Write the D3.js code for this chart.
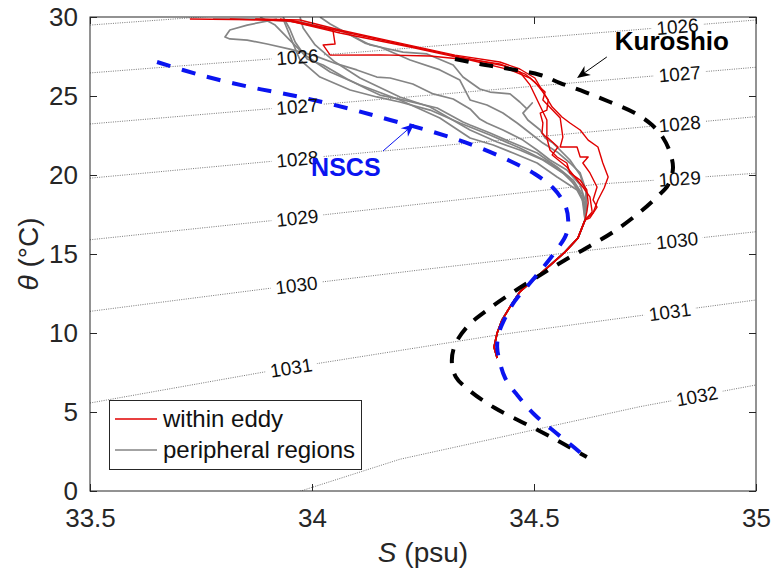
<!DOCTYPE html>
<html>
<head>
<meta charset="utf-8">
<script src="https://cdn.jsdelivr.net/npm/d3@7"></script>
<style>
  body { margin: 0; background: #fff; }
  svg { font-family: "Liberation Sans", Arial, sans-serif; }
</style>
</head>
<body>
<svg id="chart" width="773" height="573"></svg>
<script>
// ---- axes ----
const sTicks = [33.5, 34, 34.5, 35];
const thetaTicks = [0, 5, 10, 15, 20, 25, 30];

// ---- isopycnals (S, theta) ----
const sigmaLevels = [1025, 1026, 1027, 1028, 1029, 1030, 1031, 1032];
const sigma1025 = [[33.5, 29.49], [33.85, 30.2]];
const sigma1026 = [[33.5, 26.46], [34.13, 27.83], [35, 29.81]];
const sigma1027 = [[33.5, 23.23], [34.13, 24.73], [34.77, 26.27], [35, 26.82]];
const sigma1028 = [[33.5, 19.80], [34.13, 21.44], [34.77, 23.10], [35, 23.69]];
const sigma1029 = [[33.5, 15.90], [33.908, 17.11], [34.649, 19.43], [35, 20.11]];
const sigma1030 = [[33.5, 11.37], [33.905, 12.83], [34.243, 13.99], [34.694, 15.46], [35, 16.41]];
const sigma1031 = [[33.5, 5.57], [33.896, 7.55], [34.417, 9.87], [34.694, 10.93], [35, 12.09]];
const sigma1032 = [[33.958, -0.15], [34.198, 2.01], [34.739, 5.34], [35, 6.71]];
const sigmaLines = [sigma1025, sigma1026, sigma1027, sigma1028, sigma1029, sigma1030, sigma1031, sigma1032];
// label level, salinity where it sits
const contourLabels = [
  [1026, 33.967], [1027, 33.967], [1028, 33.967], [1029, 33.967], [1030, 33.965], [1031, 33.953],
  [1026, 34.823], [1027, 34.828], [1028, 34.828], [1029, 34.828], [1030, 34.822], [1031, 34.806], [1032, 34.867]
];

// ---- water mass reference curves ----
const kuroshio = [
  [34.322, 27.34], [34.378, 27.03], [34.446, 26.71], [34.514, 26.33], [34.559, 25.82], [34.615, 25.25],
  [34.671, 24.62], [34.727, 23.92], [34.766, 23.16], [34.791, 22.34], [34.806, 21.46], [34.813, 20.44],
  [34.802, 19.37], [34.779, 18.67], [34.739, 17.66], [34.682, 16.46], [34.626, 15.51], [34.570, 14.62],
  [34.514, 13.67], [34.457, 12.66], [34.401, 11.58], [34.351, 10.44], [34.322, 9.24], [34.315, 8.16],
  [34.324, 7.22], [34.356, 6.33], [34.412, 5.25], [34.491, 4.11], [34.559, 3.10], [34.619, 2.15]
];
const nscs = [
  [33.651, 27.15], [33.748, 26.33], [33.860, 25.57], [33.973, 24.94], [34.086, 24.18], [34.176, 23.48],
  [34.266, 22.78], [34.356, 21.96], [34.446, 20.89], [34.502, 20.06], [34.543, 19.18], [34.570, 18.10],
  [34.577, 17.15], [34.572, 16.20], [34.554, 15.38], [34.525, 14.30], [34.491, 13.16], [34.457, 12.03],
  [34.435, 10.95], [34.421, 10.00], [34.417, 9.11], [34.423, 8.16], [34.435, 7.15], [34.464, 6.01],
  [34.502, 4.81], [34.550, 3.67], [34.592, 2.72], [34.610, 2.28]
];

// ---- CTD profiles ----
const deepTail = [
  [34.615, 17.15], [34.599, 16.01], [34.570, 15.13], [34.532, 14.18], [34.498, 13.35], [34.468, 12.60],
  [34.446, 11.65], [34.428, 10.82], [34.417, 10.00], [34.410, 9.11], [34.417, 8.42]
];
const eddy1 = [[33.725, 29.87], [33.950, 29.81], [34.041, 29.24], [34.198, 28.29], [34.333, 27.47], [34.435, 26.90],
  [34.480, 26.39], [34.502, 25.89], [34.520, 25.25], [34.532, 24.75], [34.529, 24.11], [34.514, 23.92],
  [34.520, 23.29], [34.518, 22.66], [34.529, 22.34], [34.536, 21.58], [34.552, 21.14], [34.574, 20.76],
  [34.581, 20.13], [34.604, 19.68], [34.619, 19.05], [34.622, 18.23], [34.619, 17.66]];
const eddy2 = [[33.872, 29.87], [33.973, 29.81], [34.063, 29.18], [34.198, 28.35], [34.322, 27.59], [34.423, 27.15],
  [34.468, 26.71], [34.502, 26.14], [34.518, 25.38], [34.541, 24.30], [34.563, 23.67], [34.581, 23.29],
  [34.604, 22.85], [34.622, 22.21], [34.644, 21.77], [34.655, 20.76], [34.667, 19.87], [34.658, 19.18],
  [34.644, 18.42], [34.633, 17.59]];
const eddy3 = [[33.928, 29.87], [34.047, 29.18], [34.052, 28.29], [34.025, 28.23], [34.041, 27.59], [34.153, 27.60],
  [34.266, 27.53], [34.356, 27.28], [34.446, 26.65], [34.491, 26.14], [34.525, 25.25], [34.520, 24.75],
  [34.559, 23.61], [34.565, 22.40], [34.559, 21.77], [34.597, 21.77], [34.604, 21.14], [34.622, 21.14],
  [34.610, 20.76], [34.626, 20.13], [34.642, 19.24], [34.633, 18.42], [34.642, 17.97], [34.626, 17.28]];
const eddy4 = [[33.815, 29.87], [33.950, 29.75], [34.063, 28.99], [34.221, 28.10], [34.333, 27.41], [34.423, 27.03],
  [34.468, 26.52], [34.491, 25.70], [34.529, 23.48], [34.529, 22.40], [34.554, 21.77], [34.541, 21.27],
  [34.574, 20.51], [34.592, 19.87], [34.610, 19.24], [34.626, 18.61], [34.631, 17.66]];
const peri1 = [[33.777, 29.87], [33.883, 29.87], [33.973, 29.68], [34.074, 29.05], [34.131, 28.23], [34.205, 27.78],
  [34.259, 27.66], [34.318, 26.96], [34.340, 26.20], [34.378, 25.44], [34.401, 25.25], [34.446, 25.13],
  [34.468, 24.62], [34.484, 24.18], [34.496, 24.56], [34.475, 23.92], [34.486, 23.48], [34.514, 22.85],
  [34.525, 22.34], [34.543, 22.02], [34.581, 20.95], [34.604, 20.00], [34.617, 18.92], [34.619, 17.91]];
const peri2 = [[33.921, 29.87], [33.854, 29.49], [33.815, 29.18], [33.804, 28.73], [33.815, 28.61], [33.854, 28.54],
  [33.899, 28.29], [33.950, 27.97], [34.002, 27.59], [34.056, 27.03], [34.101, 26.65], [34.146, 26.20],
  [34.176, 26.14], [34.227, 25.76], [34.273, 25.13], [34.318, 24.81], [34.356, 24.18], [34.378, 23.54],
  [34.394, 23.29], [34.430, 22.85], [34.475, 22.21], [34.507, 21.58], [34.536, 20.95], [34.574, 20.32],
  [34.604, 19.37], [34.615, 18.42]];
const peri3 = [[33.935, 30.00], [33.950, 29.24], [33.962, 28.42], [33.973, 27.97], [33.989, 27.34], [34.025, 26.96],
  [34.079, 26.08], [34.124, 25.44], [34.153, 25.06], [34.205, 24.75], [34.282, 24.24], [34.340, 23.35],
  [34.356, 23.16], [34.401, 22.66], [34.453, 22.02], [34.507, 21.39], [34.552, 20.51], [34.588, 19.68],
  [34.610, 18.73]];
const peri4 = [[33.973, 30.00], [33.980, 29.30], [34.007, 28.23], [34.052, 27.15], [34.108, 26.14], [34.198, 24.94],
  [34.266, 24.30], [34.356, 22.85], [34.417, 22.09], [34.468, 21.58], [34.520, 20.95], [34.565, 20.13],
  [34.597, 19.24], [34.613, 18.29]];
const peri5 = [[33.883, 30.00], [33.917, 29.49], [33.950, 28.54], [33.984, 27.59], [34.041, 26.52], [34.108, 25.70],
  [34.198, 24.75], [34.288, 23.61], [34.356, 22.34], [34.408, 21.90], [34.453, 21.39], [34.507, 20.76],
  [34.552, 19.87], [34.597, 19.05], [34.615, 18.10]];
const peri6 = [[34.018, 30.00], [34.041, 29.56], [34.086, 28.86], [34.119, 28.35], [34.153, 28.10], [34.221, 27.28],
  [34.288, 26.65], [34.333, 26.01], [34.356, 24.75], [34.394, 24.43], [34.430, 23.92], [34.462, 23.29],
  [34.491, 22.66], [34.520, 22.02], [34.552, 21.46], [34.581, 20.76], [34.604, 20.13], [34.617, 19.05],
  [34.617, 18.10]];
const peri7 = [[33.935, 29.87], [33.957, 28.35], [33.973, 27.28], [34.018, 26.20], [34.086, 25.38], [34.146, 24.94],
  [34.198, 24.62], [34.266, 24.11], [34.333, 23.29], [34.401, 22.53], [34.468, 21.71], [34.536, 20.76],
  [34.581, 19.81], [34.608, 18.61]];
const eddyProfiles = [eddy1, eddy2, eddy3, eddy4];
const periProfiles = [peri1, peri2, peri3, peri4, peri5, peri6, peri7];

// ---- annotations (S, theta) ----
const kuroshioText = [34.682, 27.91];
const kuroshioArrow = [[34.664, 27.47], [34.597, 26.14]];
const nscsText = [33.998, 19.94];
const nscsArrow = [[34.160, 21.52], [34.230, 23.23]];

const W = 773, H = 573;
const plotL = 90, plotR = 756, plotT = 17, plotB = 491;
const axisColor = '#262626';
const red = '#e00000', grey = '#858585', blue = '#0a14f0';

const svg = d3.select('#chart');
const x = d3.scaleLinear().domain([33.5, 35]).range([plotL, plotR]);
const y = d3.scaleLinear().domain([0, 30]).range([plotB, plotT]);

const line = d3.line().x(d => x(d[0])).y(d => y(d[1]));
const smooth = d3.line().x(d => x(d[0])).y(d => y(d[1])).curve(d3.curveCatmullRom.alpha(0.5));

const defs = svg.append('defs');
defs.append('clipPath').attr('id', 'plotClip')
    .append('rect').attr('x', plotL).attr('y', plotT)
    .attr('width', plotR - plotL).attr('height', plotB - plotT);

// where a label sits on its isopycnal and how it is tilted
function onLine(pts, s) {
    for (let i = 0; i < pts.length - 1; i++) {
        const a = pts[i], b = pts[i + 1];
        if (s >= a[0] && s <= b[0]) {
            const t = (s - a[0]) / (b[0] - a[0]);
            const th = a[1] + t * (b[1] - a[1]);
            const ang = Math.atan2(y(b[1]) - y(a[1]), x(b[0]) - x(a[0])) * 180 / Math.PI;
            return [x(s), y(th), ang];
        }
    }
}
const labelPos = contourLabels.map(([lev, s]) => {
    const p = onLine(sigmaLines[sigmaLevels.indexOf(lev)], s);
    return {lev, px: p[0], py: p[1], ang: p[2]};
});

// gaps in the contour lines behind the labels
const mask = defs.append('mask').attr('id', 'labelGaps')
    .attr('maskUnits', 'userSpaceOnUse')
    .attr('x', 0).attr('y', 0).attr('width', W).attr('height', H);
mask.append('rect').attr('width', W).attr('height', H).attr('fill', 'white');
mask.selectAll('rect.gap').data(labelPos).join('rect')
    .attr('class', 'gap')
    .attr('x', -26).attr('y', -10).attr('width', 52).attr('height', 20)
    .attr('transform', d => `translate(${d.px},${d.py}) rotate(${d.ang})`)
    .attr('fill', 'black');

const plot = svg.append('g').attr('clip-path', 'url(#plotClip)');

plot.append('g').attr('mask', 'url(#labelGaps)')
    .selectAll('path').data(sigmaLines).join('path')
    .attr('d', line)
    .attr('fill', 'none')
    .attr('stroke', '#555')
    .attr('stroke-width', 0.8)
    .attr('stroke-dasharray', '1,1.3');

plot.append('g').selectAll('path').data(periProfiles).join('path')
    .attr('d', d => line(d.concat(deepTail)))
    .attr('fill', 'none')
    .attr('stroke', grey)
    .attr('stroke-width', 1.7)
    .attr('stroke-linejoin', 'round');

plot.append('g').selectAll('path').data(eddyProfiles).join('path')
    .attr('d', d => line(d.concat(deepTail)))
    .attr('fill', 'none')
    .attr('stroke', red)
    .attr('stroke-width', 1.4)
    .attr('stroke-linejoin', 'round');

plot.append('path').attr('d', smooth(kuroshio))
    .attr('fill', 'none').attr('stroke', '#000')
    .attr('stroke-width', 4).attr('stroke-dasharray', '14,11');

plot.append('path').attr('d', smooth(nscs))
    .attr('fill', 'none').attr('stroke', blue)
    .attr('stroke-width', 4).attr('stroke-dasharray', '14,12');

svg.append('g').selectAll('text').data(labelPos).join('text')
    .attr('transform', d => `translate(${d.px},${d.py}) rotate(${d.ang})`)
    .attr('text-anchor', 'middle')
    .attr('dy', '0.36em')
    .attr('font-size', 19)
    .attr('fill', '#111')
    .text(d => d.lev);

// ---- axes, MATLAB style box with inward ticks ----
function styleAxis(g) {
    g.select('.domain').remove();
    g.selectAll('.tick line').attr('stroke', axisColor);
    g.selectAll('.tick text').attr('fill', axisColor).attr('font-size', 26)
        .attr('font-family', '"Liberation Sans", Arial, sans-serif');
}
svg.append('g').attr('transform', `translate(0,${plotB})`)
    .call(d3.axisBottom(x).tickValues(sTicks).tickFormat(d3.format('')).tickSize(-7).tickPadding(18))
    .call(styleAxis);
svg.append('g').attr('transform', `translate(0,${plotT})`)
    .call(d3.axisTop(x).tickValues(sTicks).tickFormat('').tickSize(-7))
    .call(styleAxis);
svg.append('g').attr('transform', `translate(${plotL},0)`)
    .call(d3.axisLeft(y).tickValues(thetaTicks).tickSize(-7).tickPadding(12))
    .call(styleAxis);
svg.append('g').attr('transform', `translate(${plotR},0)`)
    .call(d3.axisRight(y).tickValues(thetaTicks).tickFormat('').tickSize(-7))
    .call(styleAxis);

svg.append('rect')
    .attr('x', plotL).attr('y', plotT)
    .attr('width', plotR - plotL).attr('height', plotB - plotT)
    .attr('fill', 'none').attr('stroke', axisColor).attr('stroke-width', 1);

const xLab = svg.append('text')
    .attr('x', (plotL + plotR) / 2).attr('y', 562)
    .attr('text-anchor', 'middle').attr('font-size', 28).attr('fill', axisColor);
xLab.append('tspan').attr('font-style', 'italic').text('S');
xLab.append('tspan').text(' (psu)');

const yLab = svg.append('text')
    .attr('transform', `translate(38,${(plotT + plotB) / 2}) rotate(-90)`)
    .attr('text-anchor', 'middle').attr('font-size', 28).attr('fill', axisColor);
yLab.append('tspan').attr('font-style', 'italic').text('θ');
yLab.append('tspan').text(' (°C)');

// ---- annotations ----
function arrow(p0, p1, color) {
    const x0 = x(p0[0]), y0 = y(p0[1]), x1 = x(p1[0]), y1 = y(p1[1]);
    const a = Math.atan2(y1 - y0, x1 - x0);
    const L = 13, hw = 5.5, N = 4;
    const ux = Math.cos(a), uy = Math.sin(a);
    const bx = x1 - ux * L, by = y1 - uy * L;
    svg.append('line')
        .attr('x1', x0).attr('y1', y0).attr('x2', x1 - ux * 6).attr('y2', y1 - uy * 6)
        .attr('stroke', color).attr('stroke-width', 1);
    svg.append('path')
        .attr('d', `M${x1},${y1}L${bx - uy * hw},${by + ux * hw}L${x1 - ux * (L - N)},${y1 - uy * (L - N)}L${bx + uy * hw},${by - ux * hw}Z`)
        .attr('fill', color);
}
svg.append('text')
    .attr('x', x(kuroshioText[0])).attr('y', y(kuroshioText[1]))
    .attr('font-size', 26).attr('font-weight', 'bold').attr('fill', '#000')
    .text('Kuroshio');
arrow(kuroshioArrow[0], kuroshioArrow[1], '#000');

svg.append('text')
    .attr('x', x(nscsText[0])).attr('y', y(nscsText[1]))
    .attr('font-size', 25).attr('font-weight', 'bold').attr('fill', blue)
    .text('NSCS');
arrow(nscsArrow[0], nscsArrow[1], blue);

// ---- legend ----
const legend = svg.append('g');
legend.append('rect')
    .attr('x', 109.5).attr('y', 400.5).attr('width', 252).attr('height', 69)
    .attr('fill', '#fff').attr('stroke', axisColor).attr('stroke-width', 1);
const legendItems = [['within eddy', red, 419], ['peripheral regions', grey, 450]];
legendItems.forEach(([label, color, ly]) => {
    legend.append('line').attr('x1', 115).attr('x2', 157).attr('y1', ly).attr('y2', ly)
        .attr('stroke', color).attr('stroke-width', 1.6);
    legend.append('text').attr('x', 163).attr('y', ly + 8)
        .attr('font-size', 24).attr('fill', '#111').text(label);
});
</script>
</body>
</html>
